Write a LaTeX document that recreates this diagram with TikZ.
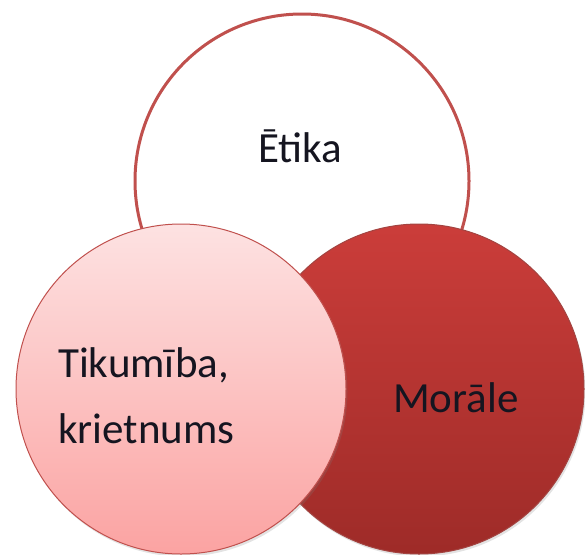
\documentclass[tikz,border=0pt]{standalone}
\usepackage{fontspec}
\setmainfont{Carlito}
\usetikzlibrary{shadows}
\definecolor{ringred}{HTML}{C0504D}
\definecolor{pinktop}{HTML}{FDE2E2}
\definecolor{pinkbot}{HTML}{FBA3A2}
\definecolor{darktop}{HTML}{CB3D3A}
\definecolor{darkbot}{HTML}{9E2B28}
\definecolor{txt}{HTML}{151520}
\tikzset{
  ring/.style={circle, inner sep=0pt, outer sep=0pt, minimum size=#1},
  lbl/.style={font=\fontsize{43}{66}\selectfont, text=txt, inner sep=0pt},
  shad/.style={drop shadow={opacity=0.22, shadow xshift=1.5pt, shadow yshift=-2.5pt}}
}
\begin{document}
\begin{tikzpicture}[x=1pt,y=-1pt]
\useasboundingbox (0,0) rectangle (585,554);
\node[ring=334pt, draw=ringred, line width=3pt, fill=white] (etika) at (302,181) {};
\node[ring=330pt, shad, draw=ringred!85!black, line width=1pt, top color=darktop, bottom color=darkbot] (morale) at (419,389) {};
\node[ring=330pt, shad, draw=ringred, line width=1pt, top color=pinktop, bottom color=pinkbot] (tikumiba) at (181,389) {};
\node[lbl, anchor=base] (tetika) at (300,162) {Ētika};
\node[lbl, anchor=base west, align=left] (ttik) at (58,443) {Tikumība,\\krietnums};
\node[lbl, anchor=base west] (tmor) at (393,412) {Morāle};
\end{tikzpicture}
\end{document}
